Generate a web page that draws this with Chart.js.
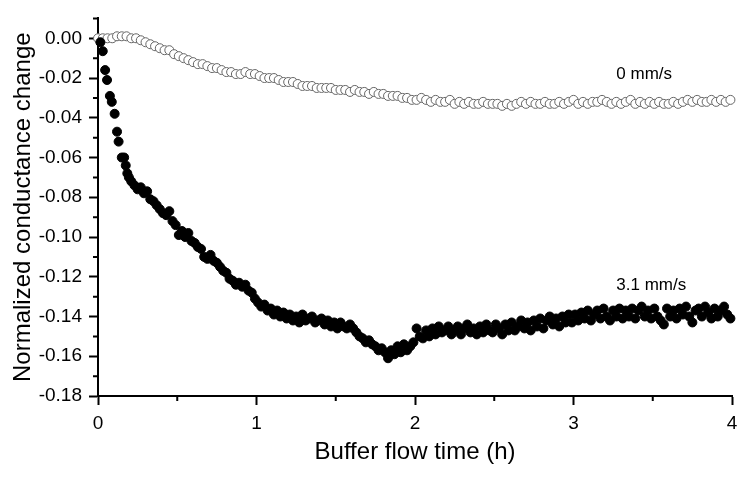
<!DOCTYPE html>
<html>
<head>
<meta charset="utf-8">
<script src="https://cdn.jsdelivr.net/npm/chart.js@4"></script>
<style>
  html, body { margin: 0; padding: 0; background: #fff; }
</style>
</head>
<body>
<canvas id="chart" width="750" height="480"></canvas>
<script>
// 3.1 mm/s series (filled circles)
const fastTimes = [
  0.015, 0.03, 0.045, 0.057, 0.075, 0.087, 0.105, 0.12, 0.13, 0.15, 0.165, 0.175, 0.185, 0.195,
  0.21, 0.23, 0.25, 0.27, 0.29, 0.31, 0.33, 0.35, 0.37, 0.39,
  0.41, 0.43, 0.45, 0.47, 0.49, 0.51, 0.53, 0.55, 0.57, 0.59,
  0.61, 0.63, 0.65, 0.67, 0.69, 0.71, 0.73, 0.75, 0.77, 0.79,
  0.81, 0.83, 0.85, 0.87, 0.89, 0.91, 0.93, 0.95, 0.97, 0.99,
  1.01, 1.03, 1.05, 1.07, 1.09, 1.11, 1.13, 1.15, 1.17, 1.19,
  1.21, 1.23, 1.25, 1.27, 1.29, 1.31, 1.33, 1.35, 1.37, 1.39,
  1.41, 1.43, 1.45, 1.47, 1.49, 1.51, 1.53, 1.55, 1.57, 1.59,
  1.61, 1.63, 1.65, 1.67, 1.69, 1.71, 1.73, 1.75, 1.77, 1.79,
  1.81, 1.83, 1.85, 1.87, 1.89, 1.91, 1.93, 1.95, 1.97, 1.99,
  2.01, 2.03, 2.05, 2.07, 2.09, 2.11, 2.13, 2.15, 2.17, 2.19,
  2.21, 2.23, 2.25, 2.27, 2.29, 2.31, 2.33, 2.35, 2.37, 2.39,
  2.41, 2.43, 2.45, 2.47, 2.49, 2.51, 2.53, 2.55, 2.57, 2.59,
  2.61, 2.63, 2.65, 2.67, 2.69, 2.71, 2.73, 2.75, 2.77, 2.79,
  2.81, 2.83, 2.85, 2.87, 2.89, 2.91, 2.93, 2.95, 2.97, 2.99,
  3.01, 3.03, 3.05, 3.07, 3.09, 3.11, 3.13, 3.15, 3.17, 3.19,
  3.21, 3.23, 3.25, 3.27, 3.29, 3.31, 3.33, 3.35, 3.37, 3.39,
  3.41, 3.43, 3.45, 3.47, 3.49, 3.51, 3.53, 3.55, 3.57, 3.59,
  3.61, 3.63, 3.65, 3.67, 3.69, 3.71, 3.73, 3.75, 3.77, 3.79,
  3.81, 3.83, 3.85, 3.87, 3.89, 3.91, 3.93, 3.95, 3.97, 3.99
];
const fastValues = [
  -0.002, -0.0065, -0.016, -0.021, -0.029, -0.032, -0.038, -0.047, -0.052, -0.060, -0.060, -0.064, -0.068, -0.070,
  -0.072, -0.074, -0.076, -0.075, -0.078, -0.077, -0.081, -0.082, -0.084, -0.086,
  -0.088, -0.089, -0.087, -0.092, -0.094, -0.099, -0.097, -0.100, -0.098, -0.102,
  -0.103, -0.105, -0.106, -0.110, -0.111, -0.109, -0.112, -0.113, -0.115, -0.117,
  -0.118, -0.121, -0.122, -0.124, -0.123, -0.125, -0.124, -0.127, -0.128, -0.131,
  -0.133, -0.135, -0.134, -0.137, -0.136, -0.139, -0.137, -0.140, -0.138, -0.141,
  -0.139, -0.142, -0.140, -0.143, -0.139, -0.142, -0.141, -0.140, -0.143, -0.142,
  -0.141, -0.144, -0.142, -0.145, -0.143, -0.146, -0.143, -0.145, -0.146, -0.144,
  -0.146, -0.148, -0.150, -0.151, -0.153, -0.152, -0.154, -0.155, -0.157, -0.156,
  -0.158, -0.161, -0.157, -0.159, -0.155, -0.158, -0.154, -0.157, -0.155, -0.153,
  -0.146, -0.150, -0.151, -0.147, -0.150, -0.146, -0.149, -0.145, -0.148, -0.147,
  -0.145, -0.149, -0.147, -0.145, -0.149, -0.146, -0.144, -0.148, -0.146, -0.149,
  -0.145, -0.148, -0.144, -0.147, -0.148, -0.144, -0.146, -0.149, -0.144, -0.147,
  -0.143, -0.147, -0.145, -0.142, -0.146, -0.143, -0.147, -0.142, -0.145, -0.141,
  -0.146, -0.142, -0.140, -0.144, -0.141, -0.145, -0.140, -0.143, -0.139, -0.143,
  -0.139, -0.142, -0.138, -0.141, -0.137, -0.142, -0.139, -0.137, -0.141, -0.136,
  -0.140, -0.142, -0.137, -0.140, -0.136, -0.141, -0.137, -0.140, -0.136, -0.141,
  -0.137, -0.135, -0.140, -0.137, -0.141, -0.136, -0.140, -0.142, -0.144, -0.136,
  -0.140, -0.137, -0.141, -0.136, -0.139, -0.135, -0.140, -0.143, -0.137, -0.136,
  -0.140, -0.135, -0.138, -0.141, -0.136, -0.140, -0.137, -0.135, -0.139, -0.141
];

// 0 mm/s series (open circles)
const stillTimes = [
  0.00, 0.03, 0.06, 0.09, 0.12, 0.15, 0.18, 0.21, 0.24, 0.27,
  0.30, 0.33, 0.36, 0.39, 0.42, 0.45, 0.48, 0.51, 0.54, 0.57,
  0.60, 0.63, 0.66, 0.69, 0.72, 0.75, 0.78, 0.81, 0.84, 0.87,
  0.90, 0.93, 0.96, 0.99, 1.02, 1.05, 1.08, 1.11, 1.14, 1.17,
  1.20, 1.23, 1.26, 1.29, 1.32, 1.35, 1.38, 1.41, 1.44, 1.47,
  1.50, 1.53, 1.56, 1.59, 1.62, 1.65, 1.68, 1.71, 1.74, 1.77,
  1.80, 1.83, 1.86, 1.89, 1.92, 1.95, 1.98, 2.01, 2.04, 2.07,
  2.10, 2.13, 2.16, 2.19, 2.22, 2.25, 2.28, 2.31, 2.34, 2.37,
  2.40, 2.43, 2.46, 2.49, 2.52, 2.55, 2.58, 2.61, 2.64, 2.67,
  2.70, 2.73, 2.76, 2.79, 2.82, 2.85, 2.88, 2.91, 2.94, 2.97,
  3.00, 3.03, 3.06, 3.09, 3.12, 3.15, 3.18, 3.21, 3.24, 3.27,
  3.30, 3.33, 3.36, 3.39, 3.42, 3.45, 3.48, 3.51, 3.54, 3.57,
  3.60, 3.63, 3.66, 3.69, 3.72, 3.75, 3.78, 3.81, 3.84, 3.87,
  3.90, 3.93, 3.96, 3.99
];
const stillValues = [
  0.000, 0.000, 0.000, 0.000, 0.001, 0.001, 0.001, 0.000, 0.000, -0.001,
  -0.002, -0.003, -0.004, -0.005, -0.006, -0.006, -0.008, -0.009, -0.010, -0.011,
  -0.012, -0.013, -0.013, -0.014, -0.015, -0.015, -0.016, -0.017, -0.017, -0.018,
  -0.018, -0.017, -0.018, -0.018, -0.019, -0.020, -0.020, -0.020, -0.021, -0.022,
  -0.022, -0.022, -0.023, -0.024, -0.024, -0.024, -0.025, -0.025, -0.025, -0.025,
  -0.026, -0.026, -0.026, -0.027, -0.026, -0.027, -0.027, -0.028, -0.027, -0.028,
  -0.028, -0.029, -0.029, -0.029, -0.030, -0.030, -0.031, -0.031, -0.030, -0.031,
  -0.032, -0.031, -0.032, -0.032, -0.031, -0.033, -0.032, -0.033, -0.032, -0.033,
  -0.033, -0.032, -0.033, -0.033, -0.033, -0.034, -0.033, -0.034, -0.033, -0.032,
  -0.033, -0.032, -0.033, -0.033, -0.032, -0.033, -0.033, -0.032, -0.033, -0.032,
  -0.031, -0.033, -0.032, -0.033, -0.032, -0.032, -0.031, -0.032, -0.033, -0.032,
  -0.033, -0.032, -0.031, -0.033, -0.032, -0.033, -0.032, -0.033, -0.032, -0.033,
  -0.033, -0.032, -0.033, -0.032, -0.031, -0.032, -0.031, -0.032, -0.032, -0.031,
  -0.032, -0.031, -0.032, -0.031
];

const xTicks = [0, 1, 2, 3, 4];
const yTicks = [0, -0.02, -0.04, -0.06, -0.08, -0.10, -0.12, -0.14, -0.16, -0.18];
const xMinorTicks = [0.5, 1.5, 2.5, 3.5];
const yMinorTicks = [0.01, -0.01, -0.03, -0.05, -0.07, -0.09, -0.11, -0.13, -0.15, -0.17];

const seriesLabels = [
  { text: "0 mm/s", x: 3.27, y: -0.0182 },
  { text: "3.1 mm/s", x: 3.27, y: -0.1243 }
];

const FONT = "'Liberation Sans', Arial, sans-serif";

const minorTicks = {
  id: "minorTicks",
  afterDraw: (chart) => {
    const { ctx, scales } = chart;
    const xs = scales.x, ys = scales.y;
    ctx.save();
    ctx.strokeStyle = "#000";
    ctx.lineWidth = 2;
    ctx.beginPath();
    xMinorTicks.forEach((v) => {
      const px = xs.getPixelForValue(v);
      ctx.moveTo(px, xs.top);
      ctx.lineTo(px, xs.top + 5);
    });
    yMinorTicks.forEach((v) => {
      const py = ys.getPixelForValue(v);
      ctx.moveTo(ys.right, py);
      ctx.lineTo(ys.right - 5, py);
    });
    ctx.stroke();
    ctx.restore();
  },
};

const seriesText = {
  id: "seriesText",
  afterDraw: (chart) => {
    const { ctx, scales } = chart;
    ctx.save();
    ctx.fillStyle = "#000";
    ctx.font = "17px " + FONT;
    ctx.textAlign = "left";
    ctx.textBaseline = "middle";
    seriesLabels.forEach((l) => {
      ctx.fillText(l.text, scales.x.getPixelForValue(l.x), scales.y.getPixelForValue(l.y));
    });
    ctx.restore();
  },
};

new Chart(document.getElementById("chart"), {
  type: "scatter",
  data: {
    datasets: [
      {
        label: "3.1 mm/s",
        data: fastTimes.map((t, i) => ({ x: t, y: fastValues[i] })),
        pointRadius: 4.5,
        pointBorderWidth: 1,
        pointBackgroundColor: "#000",
        pointBorderColor: "#000",
        clip: false,
      },
      {
        label: "0 mm/s",
        data: stillTimes.map((t, i) => ({ x: t, y: stillValues[i] })),
        pointRadius: 4.5,
        pointBorderWidth: 1,
        pointBackgroundColor: "#fff",
        pointBorderColor: "#666",
        clip: false,
      },
    ],
  },
  options: {
    responsive: false,
    animation: false,
    layout: { padding: { top: 10, right: 18, left: 0, bottom: 0 } },
    plugins: {
      legend: { display: false },
      tooltip: { enabled: false },
    },
    scales: {
      x: {
        type: "linear",
        min: 0,
        max: 4,
        afterBuildTicks: (scale) => {
          scale.ticks = xTicks.map((v) => ({ value: v }));
        },
        afterFit: (scale) => {
          scale.height = 84;
        },
        ticks: {
          color: "#000",
          padding: 7,
          font: { family: FONT, size: 19 },
          callback: (v) => String(v),
        },
        grid: {
          drawOnChartArea: false,
          tickLength: 9,
          tickWidth: 2,
          tickColor: "#000",
        },
        border: { color: "#000", width: 2 },
        title: {
          display: true,
          text: "Buffer flow time (h)",
          color: "#000",
          font: { family: FONT, size: 24 },
          padding: { top: 0, bottom: 13 },
        },
      },
      y: {
        type: "linear",
        min: -0.18,
        max: 0.01,
        afterBuildTicks: (scale) => {
          scale.ticks = yTicks.map((v) => ({ value: v }));
        },
        afterFit: (scale) => {
          scale.width = 98;
        },
        ticks: {
          color: "#000",
          padding: 7,
          font: { family: FONT, size: 19 },
          callback: (v) => Number(v).toFixed(2),
        },
        grid: {
          drawOnChartArea: false,
          tickLength: 9,
          tickWidth: 2,
          tickColor: "#000",
        },
        border: { color: "#000", width: 2 },
        title: {
          display: true,
          text: "Normalized conductance change",
          color: "#000",
          font: { family: FONT, size: 24 },
          padding: { top: 9, bottom: 0 },
        },
      },
    },
  },
  plugins: [minorTicks, seriesText],
});
</script>
</body>
</html>
